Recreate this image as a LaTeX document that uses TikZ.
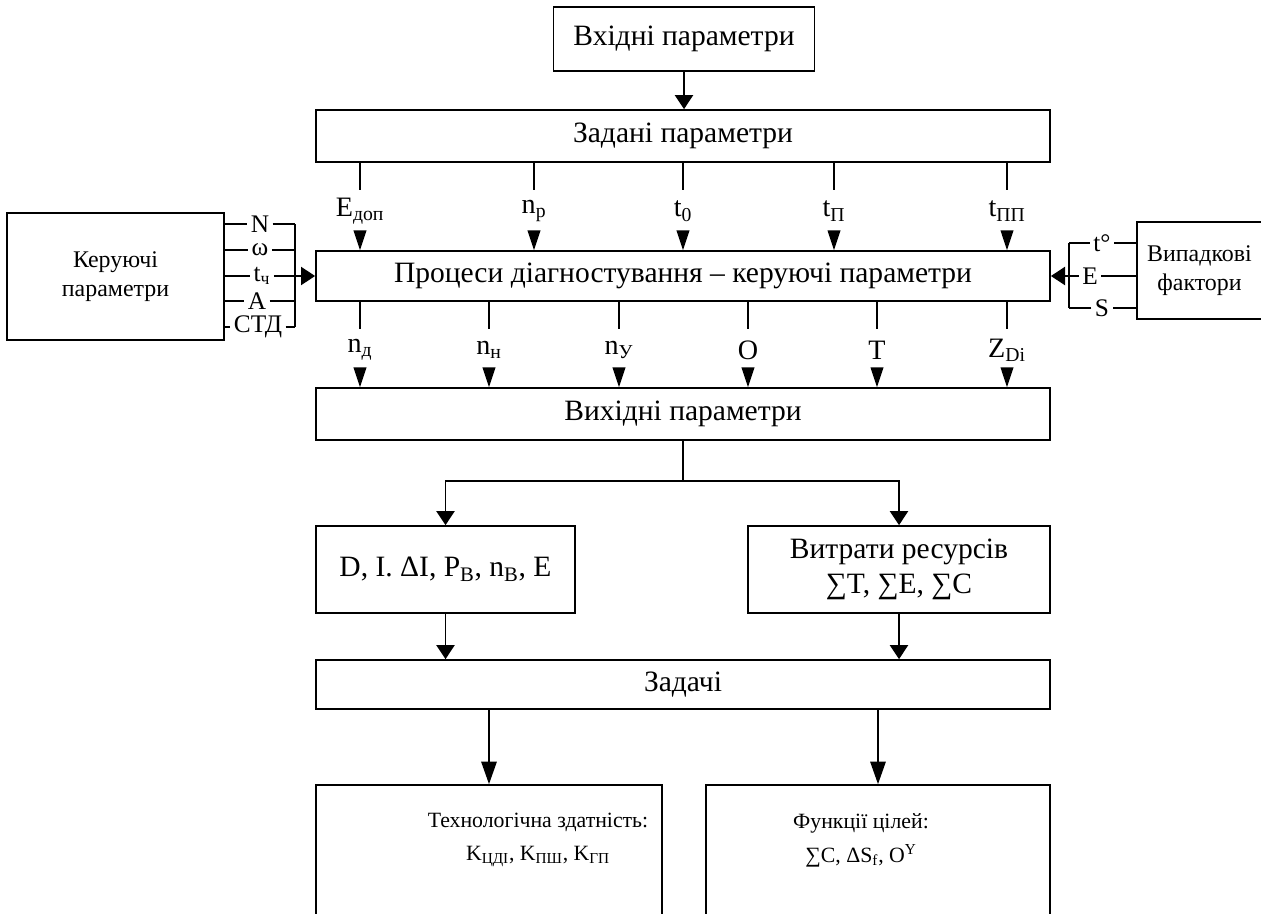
\documentclass[tikz,border=0pt]{standalone}
\usepackage{fontspec}
\setmainfont{Liberation Serif}
\usetikzlibrary{arrows.meta}

\begin{document}
\begin{tikzpicture}[x=0.025cm, y=-0.025cm, line width=1pt,
  box/.style={draw, line width=1.2pt, inner sep=0pt, align=center, font=\fontsize{21}{25}\selectfont},
  sidebox/.style={box, font=\fontsize{17}{20.5}\selectfont},
  lbl/.style={inner sep=0pt, minimum height=1cm, font=\fontsize{20}{24}\selectfont},
  sidelbl/.style={inner xsep=2pt, inner ysep=0pt, font=\fontsize{18}{20}\selectfont},
  boxtxt/.style={align=center, inner sep=0pt, font=\fontsize{15.5}{24}\selectfont},
  arr/.style={-{Triangle[width=13pt,length=10pt]}},
  colarr/.style={-{Triangle[width=9pt,length=14pt]}},
  longarr/.style={-{Triangle[width=11pt,length=16pt]}}]
\clip (0,0) rectangle (1261,913);
\fill[white] (0,0) rectangle (1261,913);
\node[box, minimum width=6.525cm, minimum height=1.6cm] (inp) at (684,39) {Вхідні параметри};
\node[box, minimum width=18.35cm, minimum height=1.3cm] (given) at (683,136) {Задані параметри};
\node[box, minimum width=18.35cm, minimum height=1.25cm] (proc) at (683,276) {Процеси діагностування -- керуючі параметри};
\node[box, minimum width=18.35cm, minimum height=1.3cm] (out) at (683,414) {Вихідні параметри};
\node[box, minimum width=6.475cm, minimum height=2.175cm] (res1) at (445.5,569.5) {D, I. ΔI, P\textsubscript{В}, n\textsubscript{В}, E};
\node[box, minimum width=7.55cm, minimum height=2.175cm] (res2) at (899,569.5) {Витрати ресурсів\\∑T, ∑E, ∑C};
\node[box, minimum width=18.35cm, minimum height=1.225cm] (task) at (683,684.5) {Задачі};
\node[box, minimum width=8.65cm, minimum height=3.5cm] (tech) at (489,855) {};
\node[box, minimum width=8.6cm, minimum height=3.5cm] (goal) at (878,855) {};
\node[boxtxt] (techtxt) at (538,840) {Технологічна здатність:\\K\textsubscript{ЦДІ}, K\textsubscript{ПШ}, K\textsubscript{ГП}};
\node[boxtxt] (goaltxt) at (861,840) {Функції цілей:\\∑C, ΔS\textsubscript{f}, O\textsuperscript{Y}};
\node[sidebox, minimum width=5.425cm, minimum height=3.175cm] (ctrl) at (115.5,276.5) {Керуючі\\параметри};
\node[sidebox, minimum width=3.125cm, minimum height=2.425cm] (rand) at (1199.5,270.5) {Випадкові\\фактори};

\node[lbl] (edop) at (360,211) {E\textsubscript{доп}};
\node[lbl] (nr) at (534,211) {n\textsubscript{р}};
\node[lbl] (tnull) at (683,211) {t\textsubscript{0}};
\node[lbl] (tp) at (834,211) {t\textsubscript{П}};
\node[lbl] (tpp) at (1007,211) {t\textsubscript{ПП}};
\node[lbl] (nd) at (360,350) {n\textsubscript{д}};
\node[lbl] (nn) at (489,350) {n\textsubscript{н}};
\node[lbl] (nu) at (619,350) {n\textsubscript{У}};
\node[lbl] (oo) at (748,350) {O};
\node[lbl] (tt) at (877,350) {T};
\node[lbl] (zdi) at (1007,350) {Z\textsubscript{Di}};

\node[sidelbl] (nnum) at (260,224) {N};
\node[sidelbl] (omega) at (260,250) {ω};
\node[sidelbl] (tch) at (262,276) {t\textsubscript{ч}};
\node[sidelbl] (aa) at (257,301) {A};
\node[sidelbl] (std) at (258,327) {СТД};
\coordinate (busl) at (295,276);
\node[sidelbl] (tdeg) at (1102,243) {t°};
\node[sidelbl] (ee) at (1090,276) {E};
\node[sidelbl] (ss) at (1102,308) {S};
\coordinate (busr) at (1069,276);
\coordinate (split) at (683,481);

\draw[arr] (inp.south) -- (inp.south |- given.north);
\foreach \c in {edop,nr,tnull,tp,tpp} {
  \draw (given.south -| \c) -- (\c.north);
  \draw[colarr] (\c.south) -- (proc.north -| \c);
}
\foreach \c in {nd,nn,nu,oo,tt,zdi} {
  \draw (proc.south -| \c) -- (\c.north);
  \draw[colarr] (\c.south) -- (out.north -| \c);
}
\draw (out.south) -- (split);
\draw[arr] (split) -| (res1);
\draw[arr] (split) -| (res2);
\draw[arr] (res1) -- (task.north -| res1);
\draw[arr] (res2) -- (task.north -| res2);
\draw[longarr] (task.south -| tech) -- (tech);
\draw[longarr] (task.south -| goal) -- (goal);

\foreach \c in {nnum,omega,tch,aa,std} {
  \draw (ctrl.east |- \c) -- (\c.west);
}
\foreach \c in {nnum,omega,aa,std} {
  \draw (\c.east) -- (busl |- \c);
}
\draw (busl |- nnum) -- (busl |- std);
\draw[arr] (tch.east) -- (proc.west |- tch);

\foreach \c in {tdeg,ee,ss} {
  \draw (rand.west |- \c) -- (\c.east);
}
\foreach \c in {tdeg,ss} {
  \draw (\c.west) -- (busr |- \c);
}
\draw (busr |- tdeg) -- (busr |- ss);
\draw[arr] (ee.west) -- (proc.east |- ee);
\end{tikzpicture}
\end{document}
